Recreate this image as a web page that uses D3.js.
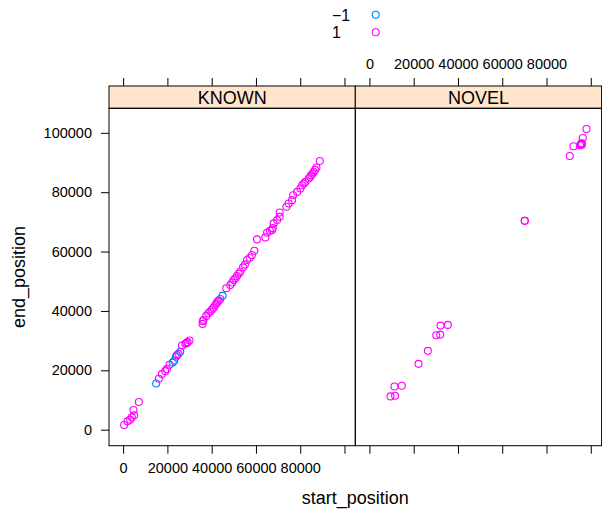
<!DOCTYPE html>
<html>
<head>
<meta charset="utf-8">
<script src="https://cdn.jsdelivr.net/npm/d3@7"></script>
<style>
  body { margin: 0; background: #fff; }
  svg { font-family: "Liberation Sans", Arial, sans-serif; }
</style>
</head>
<body>
<div id="chart"></div>
<script>
// panels: KNOWN / NOVEL, groups by strand (-1 / 1)
var panelNames = ["KNOWN", "NOVEL"];
var strandLevels = [-1, 1];
var strandColors = ["#0080ff", "#ff00ff"];
var xTicks = [0, 20000, 40000, 60000, 80000, 100000];
var yTicks = [0, 20000, 40000, 60000, 80000, 100000];

var knownStart = [450, 1950, 3170, 3920, 4980, 4670, 7090,
  14930, 16140, 17500, 19000, 19770, 20950, 22400, 23080, 23840, 24300, 25020, 25790, 26560, 28050, 28600, 29100, 30000,
  35880, 36000, 36330, 37560, 38500, 39370, 40100, 40860, 41630, 42200, 42670, 43200, 43890, 44930,
  46600, 48420, 49300, 49930, 50700, 51440, 52200, 52940, 54160, 55000, 55960, 57200, 58220, 59280,
  60480, 64250, 65020, 66300, 67280, 67600, 68010, 69550, 70710, 70710, 73760, 74800, 76320, 76770,
  78600, 80090, 80860, 81600, 82350, 83860, 84500, 84930, 85500, 86130, 86700, 87330, 88840];
var knownEnd = [1580, 2800, 3360, 4150, 4820, 6620, 9300,
  15570, 17140, 18720, 19720, 20400, 21850, 22600, 23190, 24540, 25100, 25550, 26220, 28340, 28910, 29200, 29480, 30020,
  35630, 36500, 36970, 38320, 39200, 39770, 40500, 41110, 42020, 42600, 43130, 43500, 44030, 45150,
  47620, 48740, 49600, 50420, 51000, 51760, 52500, 53220, 54680, 55600, 57140, 57900, 58820, 60280,
  64100, 64770, 66320, 67000, 67230, 67900, 69480, 70590, 71700, 73180, 75070, 76180, 77310, 78990,
  80100, 81240, 82350, 82900, 83460, 84600, 85200, 85710, 86200, 86820, 87500, 88300, 90520];
var knownStrand = [1, 1, 1, 1, 1, 1, 1,
  -1, 1, 1, 1, 1, 1, -1, -1, -1, 1, 1, -1, 1, 1, 1, 1, 1,
  1, 1, 1, 1, 1, 1, 1, 1, 1, 1, 1, 1, 1, -1,
  1, 1, 1, 1, 1, 1, 1, 1, 1, 1, 1, 1, 1, 1,
  1, 1, 1, 1, 1, 1, 1, 1, 1, 1, 1, 1, 1, 1,
  1, 1, 1, 1, 1, 1, 1, 1, 1, 1, 1, 1, 1];

var novelStart = [9500, 11600, 11310, 14620, 22170, 26400, 30170, 31980, 32130, 35430,
  70130, 70200, 90500, 92160, 95150, 95500, 95780, 96000, 95900, 96380, 98050];
var novelEnd = [11200, 11430, 14560, 14790, 22180, 26550, 31830, 32030, 35060, 35290,
  70350, 70400, 92200, 95460, 95800, 96100, 96360, 96000, 96500, 98250, 101280];
var novelStrand = [1, 1, 1, 1, 1, 1, 1, 1, 1, 1,
  1, 1, 1, 1, 1, 1, 1, 1, 1, 1, 1];

var W = 602, H = 509;
var panelLeft = 109, panelMid = 355.3, panelRight = 601.6;
var stripTop = 86, panelTop = 108.3, panelBottom = 445.7;

var svg = d3.select("#chart").append("svg")
  .attr("width", W).attr("height", H);

function rows(s, e, st) {
  return s.map(function (d, i) { return { x: d, y: e[i], g: st[i] }; });
}
var panels = [rows(knownStart, knownEnd, knownStrand), rows(novelStart, novelEnd, novelStrand)];

// lattice style limits: data range padded by 7%
var allX = knownStart.concat(novelStart), allY = knownEnd.concat(novelEnd);
function padded(v) {
  var e = d3.extent(v), r = e[1] - e[0];
  return [e[0] - 0.07 * r, e[1] + 0.07 * r];
}
var xDom = padded(allX), yDom = padded(allY);

var xScales = [
  d3.scaleLinear().domain(xDom).range([panelLeft, panelMid]),
  d3.scaleLinear().domain(xDom).range([panelMid, panelRight])
];
var y = d3.scaleLinear().domain(yDom).range([panelBottom, panelTop]);
var color = d3.scaleOrdinal().domain(strandLevels).range(strandColors);

var fmt = function (d) { return d === 100000 ? "" : d3.format("d")(d); };

function styleAxis(g) {
  g.select(".domain").remove();
  g.selectAll(".tick line").attr("stroke", "#000");
  g.selectAll(".tick text").attr("fill", "#000").style("font-size", "14.5px");
}

panels.forEach(function (data, p) {
  var x = xScales[p];
  var x0 = x.range()[0], x1 = x.range()[1];

  // bottom axis (labels on first panel only)
  svg.append("g")
    .attr("transform", "translate(0," + panelBottom + ")")
    .call(d3.axisBottom(x).tickValues(xTicks).tickSize(8).tickPadding(9)
      .tickFormat(p === 0 ? fmt : function () { return ""; }))
    .call(styleAxis);

  // top axis (labels on second panel only)
  svg.append("g")
    .attr("transform", "translate(0," + stripTop + ")")
    .call(d3.axisTop(x).tickValues(xTicks).tickSize(8).tickPadding(9)
      .tickFormat(p === 1 ? fmt : function () { return ""; }))
    .call(styleAxis);

  // strip
  svg.append("rect")
    .attr("x", x0).attr("y", stripTop)
    .attr("width", x1 - x0).attr("height", panelTop - stripTop)
    .attr("fill", "#ffe5cc").attr("stroke", "#000").attr("stroke-width", 1);
  svg.append("text")
    .attr("x", (x0 + x1) / 2).attr("y", stripTop + 17.5)
    .attr("text-anchor", "middle")
    .style("font-size", "18px")
    .text(panelNames[p]);

  // panel box
  svg.append("rect")
    .attr("x", x0).attr("y", panelTop)
    .attr("width", x1 - x0).attr("height", panelBottom - panelTop)
    .attr("fill", "none").attr("stroke", "#000").attr("stroke-width", 1);

  // points
  svg.append("g").selectAll("circle")
    .data(data)
    .join("circle")
    .attr("cx", function (d) { return x(d.x); })
    .attr("cy", function (d) { return y(d.y); })
    .attr("r", 3.5)
    .attr("fill", "none")
    .attr("stroke", function (d) { return color(d.g); })
    .attr("stroke-width", 1.1);
});

// left y axis
svg.append("g")
  .attr("transform", "translate(" + panelLeft + ",0)")
  .call(d3.axisLeft(y).tickValues(yTicks).tickSize(8).tickPadding(9).tickFormat(d3.format("d")))
  .call(styleAxis);
// right y axis ticks
svg.append("g")
  .attr("transform", "translate(" + panelRight + ",0)")
  .call(d3.axisRight(y).tickValues(yTicks).tickSize(8).tickFormat(function () { return ""; }))
  .call(styleAxis);

// axis titles
svg.append("text")
  .attr("x", (panelLeft + panelRight) / 2).attr("y", 504)
  .attr("text-anchor", "middle").style("font-size", "18px")
  .text("start_position");
svg.append("text")
  .attr("transform", "translate(25," + ((panelTop + panelBottom) / 2) + ") rotate(-90)")
  .attr("text-anchor", "middle").style("font-size", "18px")
  .text("end_position");

// legend
var legend = svg.append("g");
strandLevels.forEach(function (lv, i) {
  var cy = 14.7 + i * 17.5;
  legend.append("text")
    .attr("x", 332).attr("y", cy + 6)
    .style("font-size", "16px")
    .text(lv < 0 ? "\u22121" : String(lv));
  legend.append("circle")
    .attr("cx", 375.7).attr("cy", cy).attr("r", 3.5)
    .attr("fill", "none").attr("stroke", color(lv)).attr("stroke-width", 1.1);
});
</script>
</body>
</html>
